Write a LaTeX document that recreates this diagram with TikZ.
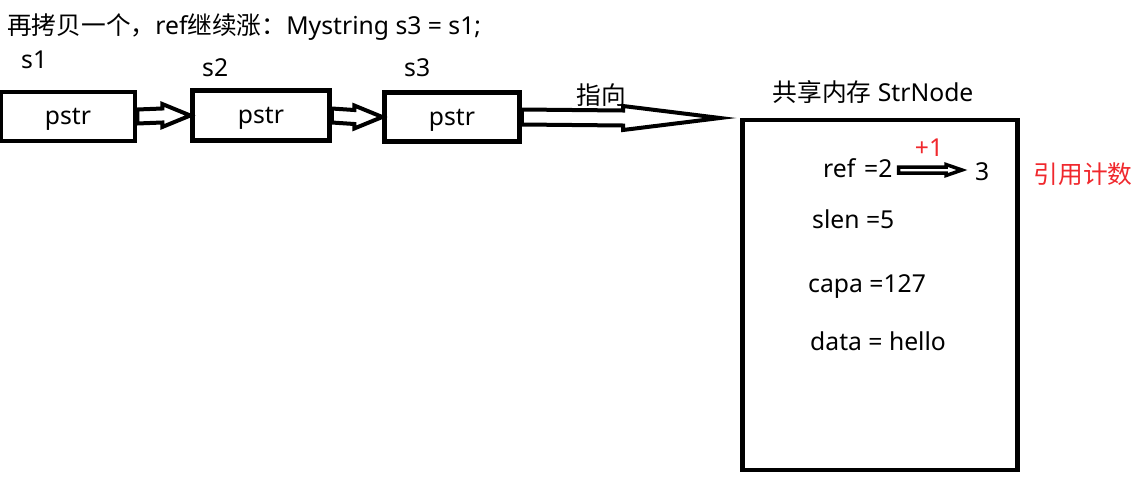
\documentclass[tikz,border=0pt]{standalone}
\usepackage{fontspec}
\setmainfont{Noto Sans}
\newfontfamily\cjk{Noto Sans CJK SC}
\usetikzlibrary{positioning,calc}
\definecolor{cred}{HTML}{F0282D}
\tikzset{
  ptrbox/.style={draw, line width=4.5pt, inner sep=0pt, text depth=-3pt, minimum width=134pt, minimum height=49pt},
  memframe/.style={draw, line width=4.5pt, inner sep=0pt, minimum width=275pt, minimum height=350pt},
  lbl/.style={inner sep=0pt, anchor=base west},
  hollow/.style n args={3}{to path={
    ($(\tikztostart)+(0,#1)$) -- ($(\tikztotarget)+(-#3,#1)$) -- ($(\tikztotarget)+(-#3,#2)$)
    -- (\tikztotarget) -- ($(\tikztotarget)+(-#3,-#2)$) -- ($(\tikztotarget)+(-#3,-#1)$)
    -- ($(\tikztostart)+(0,-#1)$) -- cycle}},
}

\begin{document}
\begin{tikzpicture}[x=1pt, y=-1pt, every node/.style={font=\fontsize{24.7}{29}\selectfont}]
  \useasboundingbox (0,0) rectangle (1139,477);
  \node[lbl] (title) at (7,34) {{\cjk 再拷贝一个，}ref{\cjk 继续涨：}Mystring s3 = s1;};
  % the three Mystring objects
  \node[ptrbox] (s1) at (68,116.5) {pstr};
  \node[ptrbox, minimum width=137pt, minimum height=50pt] (s2) at (261,115.5) {pstr};
  \node[ptrbox, minimum width=135pt] (s3) at (452,117) {pstr};
  \node[lbl] (s1n) at (21,68) {s1};
  \node[lbl] (s2n) at (202,76) {s2};
  \node[lbl] (s3n) at (404,76) {s3};
  \draw[line width=4pt] (s1.east) to[hollow={7}{11.5}{28}] (s2.west);
  \draw[line width=4pt] (s2.east) to[hollow={7}{11.5}{28}] (s3.west);
  \coordinate (tip) at (720,118);
  \draw[line width=4pt] (s3.east) to[hollow={7.5}{12}{97}] (tip);
  \node (point) at (601,95) {\cjk 指向};
  % shared StrNode
  \node[memframe] (mem) at (880,295) {};
  \node (memt) at (873,92) {{\cjk 共享内存} StrNode};
  \node[lbl] (ref) at (823,177) {ref};
  \node[lbl] (refv) at (864,177) {=2};
  \node[lbl] (refn) at (975,180) {3};
  \coordinate (reftip) at (962,170);
  \path (refv.east |- reftip) ++(6,0) coordinate (reftail);
  \draw[line width=3.5pt] (reftail) to[hollow={3}{5.5}{16}] (reftip);
  \node[text=cred] (inc) at (929,148) {+1};
  \node[text=cred] (cnt) at (1083,174) {\cjk 引用计数};
  \node[lbl] (slen) at (812,228) {slen =5};
  \node[lbl] (capa) at (808,292) {capa =127};
  \node[lbl] (data) at (810,350) {data = hello};
\end{tikzpicture}
\end{document}
